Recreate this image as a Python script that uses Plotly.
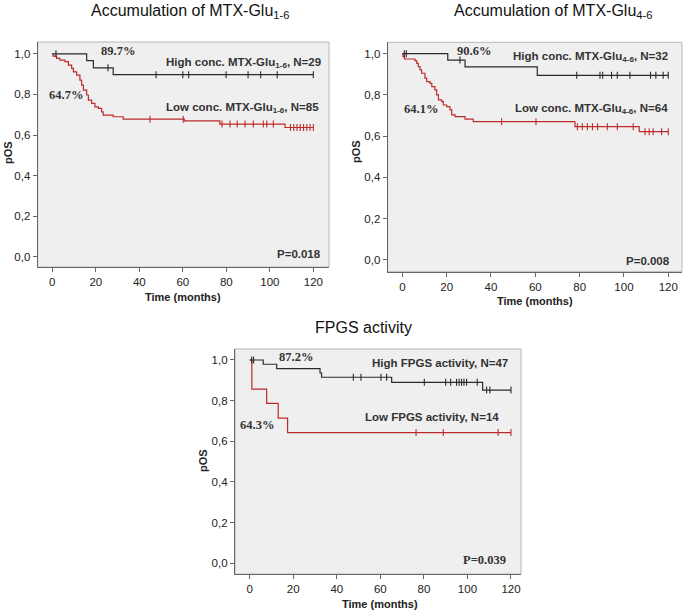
import numpy as np
import plotly.graph_objects as go

# ---------------- data ----------------
# Panel A: Accumulation of MTX-Glu1-6
a_high_t = [0, 15.8, 18.9, 28.0, 120]
a_high_s = [1.0, 0.966, 0.931, 0.897, 0.897]
a_high_cens = [1.7, 25.6, 47.7, 60.0, 62.7, 79.9, 90.0, 95.8, 103.4, 120]

a_low_t = [0, 0.3, 2.0, 3.5, 5.8, 7.4, 8.9, 9.7, 11.2, 12.7, 13.5, 14.3, 15.8, 16.6,
           18.1, 19.6, 21.2, 22.7, 23.4, 28.0, 32.6, 60.7, 77.0, 107.0, 120]
a_low_s = [1.0, 0.988, 0.977, 0.969, 0.961, 0.944, 0.928, 0.911, 0.895, 0.870, 0.846,
           0.821, 0.797, 0.772, 0.756, 0.739, 0.731, 0.714, 0.698, 0.690, 0.678,
           0.670, 0.654, 0.637, 0.637]
a_low_cens = [44.9, 60.2, 78.0, 81.7, 85.0, 88.6, 92.4, 97.0, 98.6, 101.6,
              109.5, 111.0, 112.5, 114.0, 115.5, 117.0, 118.5, 120]

# Panel B: Accumulation of MTX-Glu4-6
b_high_t = [0, 20.5, 28.3, 60.9, 120]
b_high_s = [1.0, 0.969, 0.936, 0.895, 0.895]
b_high_cens = [0.9, 1.8, 26.0, 78.7, 89.2, 90.4, 94.4, 97.0, 102.7, 112.0, 114.4, 117.7, 120]

b_low_t = [0, 0.3, 1.0, 5.7, 6.5, 7.2, 8.0, 8.7, 10.2, 11.0, 12.5, 13.3, 14.7, 15.5,
           16.3, 17.8, 18.5, 20.0, 21.5, 22.3, 23.8, 28.3, 32.0, 77.9, 106.9, 120]
b_low_s = [1.0, 0.985, 0.974, 0.966, 0.953, 0.937, 0.921, 0.905, 0.881, 0.864, 0.856,
           0.840, 0.824, 0.800, 0.776, 0.767, 0.751, 0.743, 0.727, 0.703, 0.695,
           0.683, 0.670, 0.646, 0.622, 0.622]
b_low_cens = [44.8, 60.3, 79.0, 81.2, 83.5, 85.8, 88.1, 92.5, 97.0, 104.2,
              109.5, 111.4, 113.2, 117.0, 120]

# Panel C: FPGS activity
c_high_t = [0, 6.2, 12.4, 32.3, 33.0, 65.2, 107.0, 120]
c_high_s = [1.0, 0.979, 0.957, 0.936, 0.915, 0.890, 0.852, 0.852]
c_high_cens = [0.9, 1.8, 47.6, 51.1, 60.3, 62.9, 80.2, 90.0, 92.3, 95.0, 96.2,
               97.3, 98.4, 99.6, 104.5, 108.8, 110.3, 120]

c_low_t = [0, 1.0, 7.8, 13.1, 17.4, 120]
c_low_s = [1.0, 0.857, 0.786, 0.714, 0.643, 0.643]
c_low_cens = [76.4, 88.9, 114.1, 120]

x_ticks = [0, 20, 40, 60, 80, 100, 120]
y_ticks = [0.0, 0.2, 0.4, 0.6, 0.8, 1.0]
y_ticktext = ["0,0", "0,2", "0,4", "0,6", "0,8", "1,0"]

titles = ["Accumulation of MTX-Glu<sub>1-6</sub>",
          "Accumulation of MTX-Glu<sub>4-6</sub>",
          "FPGS activity"]

# ---------------- layout helpers ----------------
W, H = 685, 612
BLACK = "#2a2a2a"
RED = "#bd2b2b"


def px(x):
    return x / W


def py(y):
    return 1 - y / H


def step_value(times, surv, t):
    idx = np.searchsorted(np.asarray(times), t, side="right") - 1
    return np.asarray(surv)[idx]


fig = go.Figure()

panels = [
    ("x", "y", (37.7, 329, 42, 267), [-6.7, 127.2], [-0.05, 1.058],
     (a_high_t, a_high_s, a_high_cens, a_low_t, a_low_s, a_low_cens)),
    ("x2", "y2", (387.7, 682, 42.3, 271.7), [-6.6, 126.2], [-0.057, 1.055],
     (b_high_t, b_high_s, b_high_cens, b_low_t, b_low_s, b_low_cens)),
    ("x3", "y3", (235, 521, 349, 574), [-6.75, 124.6], [-0.053, 1.054],
     (c_high_t, c_high_s, c_high_cens, c_low_t, c_low_s, c_low_cens)),
]

TICKFONT = dict(family="Arial, Liberation Sans, sans-serif", size=11.5, color="#222")

layout_axes = {}
shapes = []
for i, (xa, ya, box, xr, yr, data) in enumerate(panels):
    l, r, t, b = box
    ht, hs, hc, lt, ls, lc = data
    for tt, ss, cc, col in ((lt, ls, lc, RED), (ht, hs, hc, BLACK)):
        fig.add_trace(go.Scatter(x=tt, y=ss, mode="lines", line=dict(color=col, width=1.2, shape="hv"),
                                 xaxis=xa, yaxis=ya, showlegend=False, hoverinfo="skip"))
        fig.add_trace(go.Scatter(x=cc, y=[step_value(tt, ss, c) for c in cc], mode="markers",
                                 marker=dict(symbol="line-ns", size=5, line=dict(color=col, width=1.1)),
                                 xaxis=xa, yaxis=ya, showlegend=False, hoverinfo="skip"))
    suffix = "" if i == 0 else str(i + 1)
    layout_axes["xaxis" + suffix] = dict(
        domain=[px(l), px(r)], range=xr, anchor=ya, tickvals=x_ticks,
        ticks="outside", ticklen=4, tickcolor="#666", tickwidth=1,
        showline=True, linecolor="#666", linewidth=1.2, showgrid=False, zeroline=False,
        tickfont=TICKFONT, fixedrange=True)
    layout_axes["yaxis" + suffix] = dict(
        domain=[py(b), py(t)], range=yr, anchor=xa, tickvals=y_ticks, ticktext=y_ticktext,
        ticks="outside", ticklen=4, tickcolor="#666", tickwidth=1,
        showline=True, linecolor="#666", linewidth=1.2, showgrid=False, zeroline=False,
        tickfont=TICKFONT, fixedrange=True)
    shapes.append(dict(type="rect", xref=xa + " domain", yref=ya + " domain", x0=0, x1=1, y0=0, y1=1,
                       line=dict(color="#b8b8b8", width=1), fillcolor="#efefef", layer="below"))

SANS = "Arial, Liberation Sans, sans-serif"
SERIF = "Liberation Serif, Times New Roman, serif"


def ann(x, y, text, size=11, family=SANS, bold=True, color="#222", angle=0, xanchor="center"):
    txt = f"<b>{text}</b>" if bold else text
    return dict(x=px(x), y=py(y), xref="paper", yref="paper", text=txt, showarrow=False,
                xanchor=xanchor, yanchor="middle", textangle=angle,
                font=dict(family=family, size=size, color=color))


annotations = [
    ann(190, 11, titles[0], size=16, bold=False, color="#111"),
    ann(553, 11, titles[1], size=16, bold=False, color="#111"),
    ann(363, 327, titles[2], size=16, bold=False, color="#111"),
    ann(8, 152, "pOS", size=11, angle=-90),
    ann(356, 152, "pOS", size=11, angle=-90),
    ann(203, 461, "pOS", size=11, angle=-90),
    ann(183, 297, "Time (months)", size=11),
    ann(535, 301, "Time (months)", size=11),
    ann(380, 604, "Time (months)", size=11),
    ann(117.5, 51, "89.7%", size=12.5, family=SERIF, color="#333"),
    ann(323, 63.5, "High conc. MTX-Glu<sub>1-6</sub>, N=29", size=11.5, xanchor="right", color="#333"),
    ann(65.5, 94.5, "64.7%", size=12.5, family=SERIF, color="#333"),
    ann(321, 108, "Low conc. MTX-Glu<sub>1-6</sub>, N=85", size=11.5, xanchor="right", color="#333"),
    ann(323, 254, "P=0.018", size=11.5, xanchor="right", color="#333"),
    ann(474, 51, "90.6%", size=12.5, family=SERIF, color="#333"),
    ann(670, 57, "High conc. MTX-Glu<sub>4-6</sub>, N=32", size=11.5, xanchor="right", color="#333"),
    ann(421, 109, "64.1%", size=12.5, family=SERIF, color="#333"),
    ann(670, 109, "Low conc. MTX-Glu<sub>4-6</sub>, N=64", size=11.5, xanchor="right", color="#333"),
    ann(672, 261, "P=0.008", size=11.5, xanchor="right", color="#333"),
    ann(296, 357, "87.2%", size=12.5, family=SERIF, color="#333"),
    ann(510, 363, "High FPGS activity, N=47", size=11.5, xanchor="right", color="#333"),
    ann(256.7, 425, "64.3%", size=12.5, family=SERIF, color="#333"),
    ann(501, 417, "Low FPGS activity, N=14", size=11.5, xanchor="right", color="#333"),
    ann(508, 560, "P=0.039", size=12.5, family=SERIF, xanchor="right", color="#333"),
]

fig.update_layout(
    width=W, height=H, margin=dict(l=0, r=0, t=0, b=0),
    paper_bgcolor="white", plot_bgcolor="rgba(0,0,0,0)",
    shapes=shapes, annotations=annotations, showlegend=False,
    **layout_axes,
)

fig.write_html("out.html", config={"displayModeBar": False},
               post_script="document.body.style.margin='0';document.body.style.overflow='hidden';")
